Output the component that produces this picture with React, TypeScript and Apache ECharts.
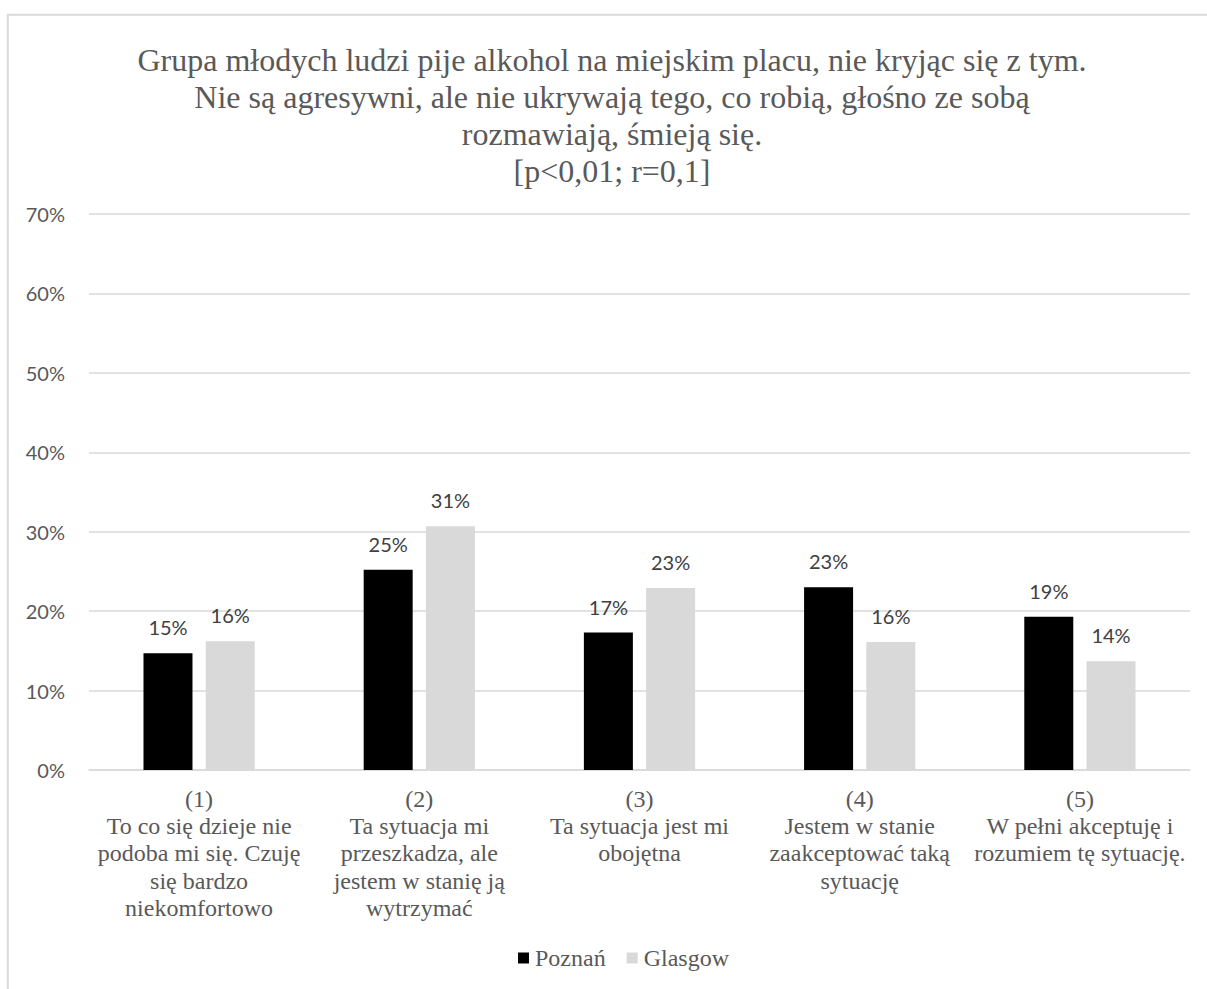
import React, { useEffect, useRef } from "react";
import * as echarts from "echarts";

const titleLines = [
  "Grupa młodych ludzi pije alkohol na miejskim placu, nie kryjąc się z tym.",
  "Nie są agresywni, ale nie ukrywają tego, co robią, głośno ze sobą",
  "rozmawiają, śmieją się.",
  "[p<0,01; r=0,1]",
];

const categories = [
  "(1)\nTo co się dzieje nie\npodoba mi się. Czuję\nsię bardzo\nniekomfortowo",
  "(2)\nTa sytuacja mi\nprzeszkadza, ale\njestem w stanię ją\nwytrzymać",
  "(3)\nTa sytuacja jest mi\nobojętna",
  "(4)\nJestem w stanie\nzaakceptować taką\nsytuację",
  "(5)\nW pełni akceptuję i\nrozumiem tę sytuację.",
];

const poznan = [14.7, 25.2, 17.3, 23.0, 19.3];
const glasgow = [16.2, 30.7, 22.9, 16.1, 13.7];

const seriesNames = ["Poznań", "Glasgow"];
const yMin = 0;
const yMax = 70;
const yStep = 10;

const serif = "'Liberation Serif', 'Times New Roman', serif";
const sans = "Lato, 'Liberation Sans', sans-serif";
const textGray = "#595959";
const labelGray = "#404040";
const lineGray = "#d9d9d9";

export default function App() {
  const ref = useRef<HTMLDivElement>(null);

  useEffect(() => {
    if (!ref.current) return;
    const chart = echarts.init(ref.current, undefined, { renderer: "svg" });
    const dataLabel = {
      show: true,
      position: "top" as const,
      distance: 16,
      fontFamily: sans,
      fontSize: 20,
      color: labelGray,
      formatter: (p: any) => Math.round(p.value) + "%",
    };
    chart.setOption({
      animation: false,
      backgroundColor: "#ffffff",
      title: {
        text: titleLines.join("\n"),
        left: 607,
        top: 36,
        textAlign: "center",
        textStyle: {
          fontFamily: serif,
          fontSize: 32,
          fontWeight: "normal",
          lineHeight: 37,
          color: textGray,
        },
      },
      graphic: [
        {
          type: "rect",
          shape: { x: 7.8, y: 14.7, width: 1400, height: 1200 },
          style: { fill: "none", stroke: lineGray, lineWidth: 2 },
          silent: true,
        },
      ],
      legend: {
        data: seriesNames,
        left: 513,
        top: 941,
        icon: "rect",
        itemWidth: 11,
        itemHeight: 11,
        itemGap: 21,
        textStyle: {
          fontFamily: serif,
          fontSize: 24,
          color: textGray,
          padding: [0, 0, 0, 1],
        },
      },
      grid: {
        left: 89,
        right: 17,
        top: 214,
        bottom: 219,
        containLabel: false,
      },
      xAxis: {
        type: "category",
        data: categories,
        axisTick: { show: false },
        axisLine: { lineStyle: { color: lineGray, width: 1.5 } },
        axisLabel: {
          interval: 0,
          margin: 15,
          fontFamily: serif,
          fontSize: 24,
          lineHeight: 27.3,
          color: textGray,
          align: "center",
        },
      },
      yAxis: {
        type: "value",
        min: yMin,
        max: yMax,
        interval: yStep,
        axisLine: { show: false },
        axisTick: { show: false },
        splitLine: { lineStyle: { color: lineGray, width: 1.5 } },
        axisLabel: {
          formatter: "{value}%",
          margin: 24,
          fontFamily: sans,
          fontSize: 20,
          color: textGray,
        },
      },
      series: [
        {
          name: seriesNames[0],
          type: "bar",
          data: poznan,
          barWidth: 49,
          barGap: "27%",
          itemStyle: { color: "#000000" },
          label: dataLabel,
        },
        {
          name: seriesNames[1],
          type: "bar",
          data: glasgow,
          barWidth: 49,
          barGap: "27%",
          itemStyle: { color: "#d9d9d9" },
          label: dataLabel,
        },
      ],
    });
    return () => chart.dispose();
  }, []);

  return (
    <div
      ref={ref}
      style={{ position: "fixed", left: 0, top: 0, width: 1207, height: 989 }}
    />
  );
}
